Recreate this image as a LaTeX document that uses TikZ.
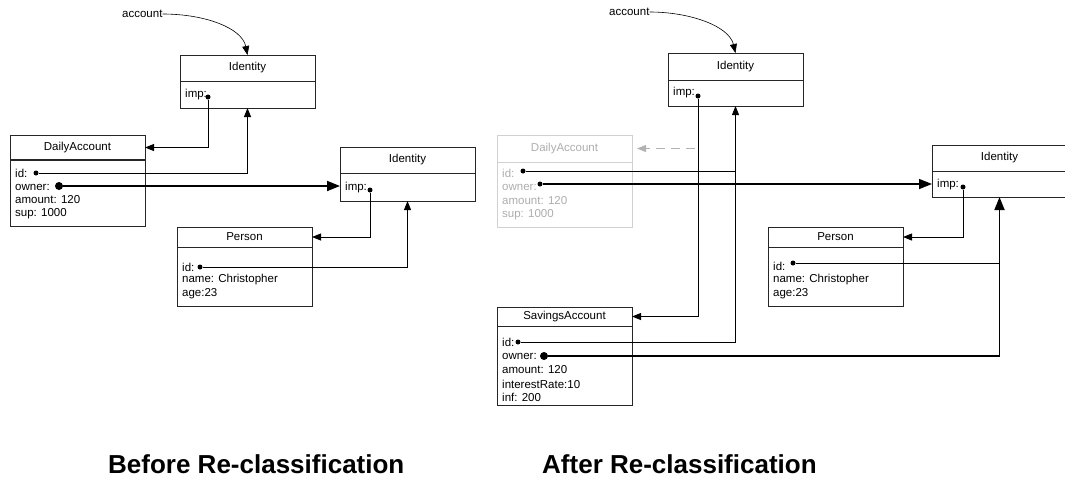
\documentclass[tikz,border=0pt]{standalone}
\usepackage{fontspec}
\setmainfont{Liberation Sans}
\usetikzlibrary{arrows.meta,positioning}
\newcommand{\boxfont}{\fontsize{11.5}{14}\selectfont}

\begin{document}
\begin{tikzpicture}[x=1pt, y=-1pt,
  classhead/.style={draw=black!85, line width=0.9pt, minimum width=135, inner sep=0, outer sep=0, anchor=north west, font=\boxfont},
  classbody/.style={classhead, anchor=north},
  row/.style={anchor=west, inner sep=0, font=\boxfont},
  ptr/.style={circle, fill=black, inner sep=0, minimum size=5},
  bigptr/.style={ptr, minimum size=8},
  ghost/.style={draw=black!18, text=black!32},
  wire/.style={line width=0.8pt},
  link/.style={wire, -{Triangle[length=9pt,width=7pt]}},
  ownlink/.style={line width=1.8pt, -{Triangle[length=13pt,width=10pt]}},
  heading/.style={anchor=west, inner sep=0, font=\fontsize{26}{30}\selectfont\bfseries}]
\useasboundingbox (0,0) rectangle (1065,483);

% Before: objects
\node[row] (acc1) at (122,14) {account};
\node[classhead, minimum height=26] (id1t) at (180,55) {Identity};
\node[classbody, minimum height=27, below=0pt of id1t] (id1b) {};
\node[row] at (185,95) {imp:};
\node[ptr] (id1ptr) at (208,97) {};

\node[classhead, minimum height=25] (da1t) at (10,135) {DailyAccount};
\node[classbody, minimum height=66, below=0pt of da1t] (da1b) {};
\draw[line width=1.6pt, black!85] (da1t.south west) -- (da1t.south east);
\node[row] at (15,173) {id:};
\node[row] at (15,187) {owner:};
\node[row] at (15,200) {amount: 120};
\node[row] at (15,214) {sup: 1000};
\node[ptr] (da1id) at (36,173) {};
\node[bigptr] (da1own) at (59,186) {};

\node[classhead, minimum height=26] (id2t) at (340,147) {Identity};
\node[classbody, minimum height=28, below=0pt of id2t] (id2b) {};
\node[row] at (345,188) {imp:};
\node[ptr] (id2ptr) at (370,190) {};

\node[classhead, minimum height=20] (p1t) at (177,227) {Person};
\node[classbody, minimum height=59, below=0pt of p1t] (p1b) {};
\node[row] at (182,267) {id:};
\node[row] at (182,280) {name: Christopher};
\node[row] at (182,294) {age:23};
\node[ptr] (p1id) at (200,267) {};

% Before: references
\draw[link, line width=0.6pt] (acc1.east) .. controls (205,14) and (242,28) .. (id1t.north);
\draw[link] (id1ptr) |- (da1t.east);
\draw[link] (da1id) -| (id1b.south);
\draw[ownlink] (da1own) -- (da1own -| id2b.west);
\draw[link] (id2ptr) |- (p1t.east);
\draw[link] (p1id) -| (id2b.south);

% After: objects
\node[row] (acc2) at (609,12) {account};
\node[classhead, minimum height=27] (id3t) at (668,53) {Identity};
\node[classbody, minimum height=26, below=0pt of id3t] (id3b) {};
\node[row] at (673,93) {imp:};
\node[ptr] (id3ptr) at (698,96) {};

\node[classhead, ghost, minimum height=27] (da2t) at (497,135) {DailyAccount};
\node[classbody, ghost, minimum height=65, below=0pt of da2t] (da2b) {};
\node[row, text=black!32] at (502,173) {id:};
\node[row, text=black!32] at (502,187) {owner:};
\node[row, text=black!32] at (502,201) {amount: 120};
\node[row, text=black!32] at (502,215) {sup: 1000};
\node[ptr] (da2id) at (523,171) {};
\node[ptr] (da2own) at (540,184) {};

\node[classhead, minimum height=19] (sat) at (497,307) {SavingsAccount};
\node[classbody, minimum height=79, below=0pt of sat] (sab) {};
\node[row] at (502,342) {id:};
\node[row] at (502,356) {owner:};
\node[row] at (502,370) {amount: 120};
\node[row] at (502,384) {interestRate:10};
\node[row] at (502,397) {inf: 200};
\node[ptr] (said) at (518,342) {};
\node[bigptr] (saown) at (544,356) {};

\node[classhead, minimum height=26] (id4t) at (932,145) {Identity};
\node[classbody, minimum height=26, below=0pt of id4t] (id4b) {};
\node[row] at (937,185) {imp:};
\node[ptr] (id4ptr) at (963,187) {};

\node[classhead, minimum height=20] (p2t) at (768,227) {Person};
\node[classbody, minimum height=59, below=0pt of p2t] (p2b) {};
\node[row] at (773,266) {id:};
\node[row] at (773,280) {name: Christopher};
\node[row] at (773,294) {age:23};
\node[ptr] (p2id) at (793,263) {};

% After: references
\draw[link, line width=0.6pt] (acc2.east) .. controls (690,12) and (729,26) .. (id3t.north);
\draw[link, black!30, dash pattern=on 9pt off 6pt, shorten <=3pt, shorten >=5pt] (id3ptr |- da2t.east) -- (da2t.east);
\draw[link] (id3ptr) |- (sat.east);
\draw[wire] (da2id) -- (da2id -| id3b.south);
\draw[ownlink, line width=1.4pt] (da2own) -- (da2own -| id4b.west);
\draw[link] (said) -| (id3b.south);
\draw[ownlink] (saown) -| (id4b.south);
\draw[link] (id4ptr) |- (p2t.east);
\draw[wire] (p2id) -- (p2id -| id4b.south);

% captions
\node[heading] (before) at (108,464) {Before Re-classification};
\node[heading] (after) at (542,464) {After Re-classification};
\end{tikzpicture}
\end{document}
